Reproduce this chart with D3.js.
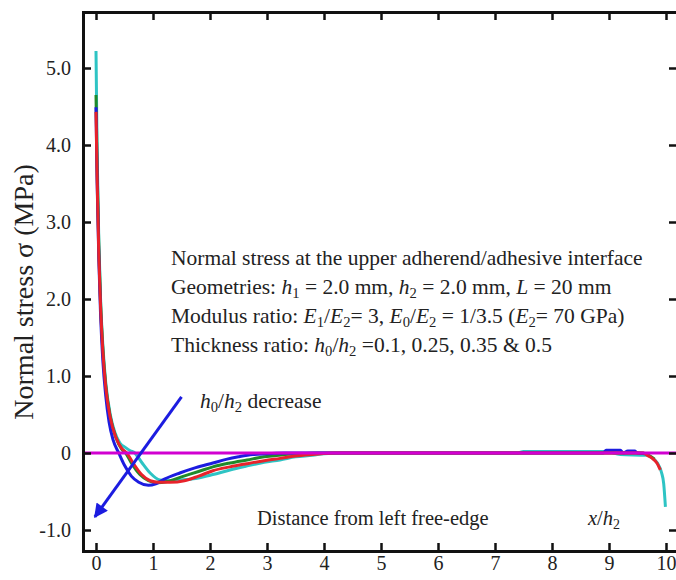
<!doctype html>
<html lang="en">
<head>
<meta charset="utf-8">
<title>Normal stress at the upper adherend/adhesive interface</title>
<script src="https://d3js.org/d3.v7.min.js"></script>
<style>
  body { margin: 0; background: #fff; }
  svg text { font-family: "Liberation Serif", "Times New Roman", serif; fill: #222; }
</style>
</head>
<body>
<script>
// ---- data ----
var xTicks = [0, 1, 2, 3, 4, 5, 6, 7, 8, 9, 10];
var yTicks = [-1, 0, 1, 2, 3, 4, 5];
var yTickLabels = ["-1.0", "0", "1.0", "2.0", "3.0", "4.0", "5.0"];

// cyan curve
var cyanX = [0, 0.02, 0.05, 0.08, 0.12, 0.17, 0.25, 0.33, 0.42, 0.52, 0.6, 0.68, 0.8, 0.95, 1.12, 1.3, 1.5, 1.75, 2.05, 2.35, 2.64, 2.95, 3.23, 3.5, 3.8, 4.0, 4.3, 7.4, 7.5, 8.95, 9.2, 9.65, 9.75, 9.85, 9.92, 9.96, 9.99];
var cyanY = [5.22, 3.9, 2.75, 2.0, 1.4, 0.92, 0.5, 0.27, 0.13, 0.07, 0.03, 0.0, -0.12, -0.26, -0.35, -0.36, -0.35, -0.33, -0.28, -0.22, -0.17, -0.12, -0.09, -0.05, -0.03, -0.01, 0, 0, 0.02, 0.02, -0.02, -0.03, -0.06, -0.13, -0.25, -0.4, -0.7];
// green curve
var greenX = [0, 0.02, 0.05, 0.08, 0.12, 0.17, 0.25, 0.35, 0.45, 0.52, 0.62, 0.77, 0.92, 1.06, 1.25, 1.5, 1.8, 2.05, 2.35, 2.65, 2.95, 3.25, 3.55, 3.9, 9.6, 9.72, 9.8];
var greenY = [4.65, 3.7, 2.65, 1.95, 1.35, 0.88, 0.47, 0.2, 0.05, 0.0, -0.13, -0.28, -0.36, -0.385, -0.37, -0.31, -0.24, -0.18, -0.13, -0.09, -0.05, -0.025, -0.01, 0, 0, -0.04, -0.08];
// blue curve
var blueX = [0, 0.02, 0.05, 0.08, 0.12, 0.17, 0.23, 0.3, 0.4, 0.5, 0.62, 0.75, 0.92, 1.05, 1.2, 1.47, 1.75, 2.05, 2.3, 2.5, 2.75, 3.0, 3.3, 8.9, 8.95, 9.2, 9.25, 9.33, 9.45, 9.5, 9.7];
var blueY = [4.49, 3.5, 2.5, 1.8, 1.2, 0.75, 0.4, 0.17, 0.0, -0.16, -0.3, -0.38, -0.42, -0.4, -0.34, -0.26, -0.19, -0.13, -0.08, -0.05, -0.02, -0.01, 0, 0, 0.035, 0.035, 0, 0.025, 0.025, 0, -0.01];
// red curve
var redX = [0, 0.02, 0.05, 0.08, 0.12, 0.17, 0.25, 0.35, 0.45, 0.54, 0.65, 0.8, 0.95, 1.1, 1.3, 1.55, 1.8, 2.05, 2.35, 2.64, 2.95, 3.23, 3.5, 3.8, 4.2, 9.6, 9.67, 9.76, 9.84, 9.9];
var redY = [4.43, 3.55, 2.55, 1.9, 1.32, 0.86, 0.46, 0.2, 0.06, 0.0, -0.13, -0.28, -0.36, -0.38, -0.38, -0.36, -0.3, -0.23, -0.18, -0.14, -0.1, -0.07, -0.04, -0.02, 0, 0, -0.03, -0.07, -0.13, -0.22];

var series = [
  { name: "cyan", color: "#2ec4c4", xs: cyanX, ys: cyanY },
  { name: "green", color: "#1f8a2a", xs: greenX, ys: greenY },
  { name: "blue", color: "#1c1ce0", xs: blueX, ys: blueY },
  { name: "red", color: "#e8222a", xs: redX, ys: redY }
];

// arrow "h0/h2 decrease" (data coords)
var arrowFrom = [1.5, 0.73];
var arrowTo = [-0.02, -0.83];

var width = 676,
    height = 580;

var svg = d3.select("body").append("svg")
  .attr("width", width)
  .attr("height", height);

// frame
var frameL = 83, frameR = 677, frameT = 12, frameB = 551;

var x = d3.scaleLinear().domain([-13 / 57, 10 + 11 / 57]).range([frameL, frameR]);
var y = d3.scaleLinear().domain([-98 / 77, 441 / 77]).range([frameB, frameT]);

var line = d3.line()
  .x(d => x(d[0]))
  .y(d => y(d[1]))
  .curve(d3.curveMonotoneX);

var g = svg.append("g");

series.forEach(function(s) {
  g.append("path")
    .datum(s.xs.map((v, i) => [v, s.ys[i]]))
    .attr("fill", "none")
    .attr("stroke", s.color)
    .attr("stroke-width", 3)
    .attr("stroke-linejoin", "round")
    .attr("d", line);
});

// magenta zero line
g.append("line")
  .attr("x1", frameL).attr("x2", frameR)
  .attr("y1", y(0)).attr("y2", y(0))
  .attr("stroke", "#d100d1")
  .attr("stroke-width", 3);

// arrow
svg.append("defs").append("marker")
  .attr("id", "head")
  .attr("viewBox", "0 0 10 10")
  .attr("refX", 9).attr("refY", 5)
  .attr("markerWidth", 26).attr("markerHeight", 14)
  .attr("markerUnits", "userSpaceOnUse")
  .attr("orient", "auto")
  .append("path")
  .attr("d", "M0,0 L10,5 L0,10 Z")
  .attr("fill", "#1c1ce0");

g.append("line")
  .attr("x1", x(arrowFrom[0])).attr("y1", y(arrowFrom[1]))
  .attr("x2", x(arrowTo[0])).attr("y2", y(arrowTo[1]))
  .attr("stroke", "#1c1ce0")
  .attr("stroke-width", 3)
  .attr("marker-end", "url(#head)");

// axes with inward ticks
svg.append("g")
  .attr("transform", "translate(0," + frameB + ")")
  .call(d3.axisBottom(x).tickValues(xTicks).tickSize(-8).tickPadding(5).tickFormat(d3.format("d")));
svg.append("g")
  .attr("transform", "translate(0," + frameT + ")")
  .call(d3.axisTop(x).tickValues(xTicks).tickSize(-8).tickFormat(""));
svg.append("g")
  .attr("transform", "translate(" + frameL + ",0)")
  .call(d3.axisLeft(y).tickValues(yTicks).tickSize(-8).tickPadding(12)
    .tickFormat((d, i) => yTickLabels[i]));
svg.append("g")
  .attr("transform", "translate(" + frameR + ",0)")
  .call(d3.axisRight(y).tickValues(yTicks).tickSize(-8).tickFormat(""));

svg.selectAll(".domain").attr("stroke", "#111").attr("stroke-width", 3);
svg.selectAll(".tick line").attr("stroke", "#111").attr("stroke-width", 2.5);
svg.selectAll(".tick text")
  .style("font-family", "'Liberation Serif', 'Times New Roman', serif")
  .style("font-size", "20px")
  .style("fill", "#222");

// y title
svg.append("text")
  .attr("transform", "translate(33,292) rotate(-90)")
  .attr("text-anchor", "middle")
  .style("font-size", "28px")
  .text("Normal stress σ (MPa)");

// annotation text with italic symbols and subscripts
function rich(parent, xPos, yPos, parts, size) {
  var t = parent.append("text")
    .attr("x", xPos).attr("y", yPos)
    .style("font-size", size + "px");
  parts.forEach(function(p) {
    var s = t.append("tspan").text(p[0]);
    if (p[1] === "i") s.style("font-style", "italic");
    if (p[1] === "sub") s.style("font-size", (size * 0.68) + "px").attr("dy", 4);
    if (p[1] === "up") s.attr("dy", -4);
  });
  return t;
}

var fs = 21.5;
rich(svg, 171, 265, [["Normal stress at the upper adherend/adhesive interface"]], fs);
rich(svg, 171, 294, [["Geometries: "], ["h", "i"], ["1", "sub"], [" = 2.0 mm, ", "up"], ["h", "i"], ["2", "sub"],
  [" = 2.0 mm, ", "up"], ["L", "i"], [" = 20 mm"]], fs);
rich(svg, 171, 323, [["Modulus ratio: "], ["E", "i"], ["1", "sub"], ["/", "up"], ["E", "i"], ["2", "sub"],
  ["= 3, ", "up"], ["E", "i"], ["0", "sub"], ["/", "up"], ["E", "i"], ["2", "sub"], [" = 1/3.5 (", "up"],
  ["E", "i"], ["2", "sub"], ["= 70 GPa)", "up"]], fs);
rich(svg, 171, 352, [["Thickness ratio: "], ["h", "i"], ["0", "sub"], ["/", "up"], ["h", "i"], ["2", "sub"],
  [" =0.1, 0.25, 0.35 & 0.5", "up"]], fs);

rich(svg, 200, 408, [["h", "i"], ["0", "sub"], ["/", "up"], ["h", "i"], ["2", "sub"], [" decrease", "up"]], fs);

rich(svg, 257, 525, [["Distance from left free-edge"]], 20.5);
rich(svg, 588, 525, [["x", "i"], ["/"], ["h", "i"], ["2", "sub"]], 20.5);
</script>
</body>
</html>
